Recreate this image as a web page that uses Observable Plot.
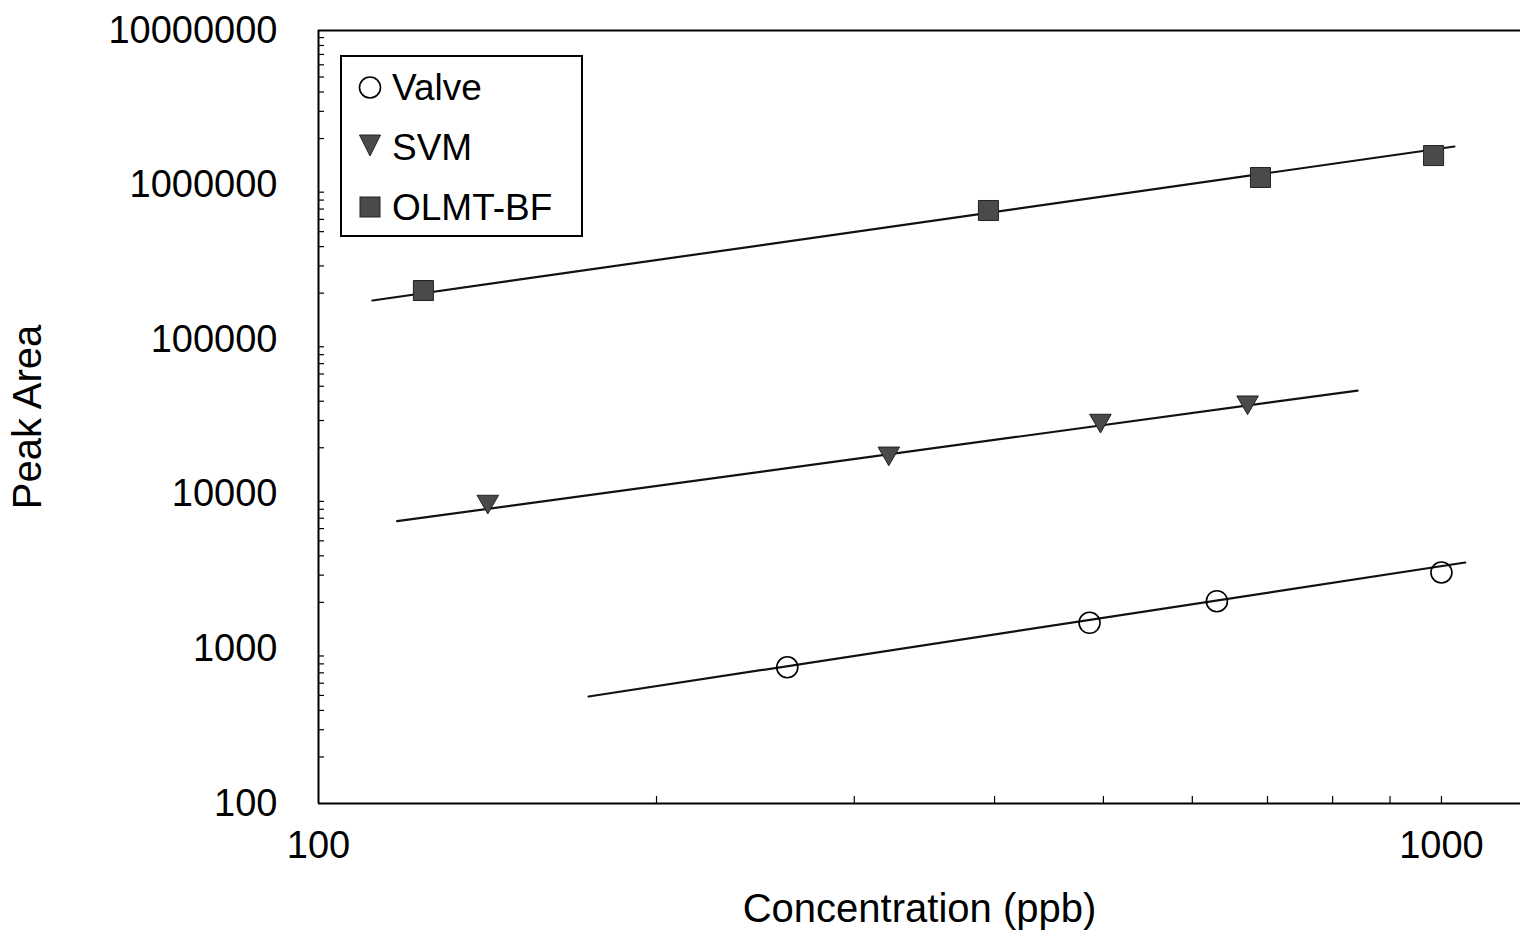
<!DOCTYPE html>
<html>
<head>
<meta charset="utf-8">
<script src="https://cdn.jsdelivr.net/npm/d3@7"></script>
<script src="https://cdn.jsdelivr.net/npm/@observablehq/plot@0.6"></script>
<style>
  body { margin: 0; background: #fff; }
  #wrap { position: relative; width: 1520px; height: 932px; overflow: hidden; }
  #legend { position: absolute; left: 340px; top: 55px; }
</style>
</head>
<body>
<div id="wrap"></div>
<script>
// ---- Data ----
const seriesNames = ["Valve", "SVM", "OLMT-BF"];

// Valve (open circles)
const valveConc = [261.5, 486, 631, 1000];
const valveArea = [761, 1475, 2035, 3120];

// SVM (filled down-triangles)
const svmConc = [141.5, 322, 497, 672];
const svmArea = [8985, 18420, 30020, 39420];

// OLMT-BF (filled squares)
const olmtConc = [124, 395, 690, 984];
const olmtArea = [208000, 685000, 1120000, 1553000];

// Fitted lines: start and end points
const fitValveConc = [174, 1050];
const fitValveArea = [492, 3620];
const fitSvmConc = [117.5, 842];
const fitSvmArea = [6700, 46900];
const fitOlmtConc = [111.7, 1027];
const fitOlmtArea = [179300, 1777000];

// Axis ticks
const xTickLabels = [100, 1000];
const yTickLabels = [100, 1000, 10000, 100000, 1000000, 10000000];
const xDomain = [100, 1176];
const yDomain = [100, 10000000];

// ---- Tables ----
const toRows = (xs, ys, name) => xs.map((x, i) => ({conc: x, area: ys[i], series: name}));
const valveRows = toRows(valveConc, valveArea, seriesNames[0]);
const svmRows = toRows(svmConc, svmArea, seriesNames[1]);
const olmtRows = toRows(olmtConc, olmtArea, seriesNames[2]);
const fitRows = [
  ...toRows(fitValveConc, fitValveArea, seriesNames[0]),
  ...toRows(fitSvmConc, fitSvmArea, seriesNames[1]),
  ...toRows(fitOlmtConc, fitOlmtArea, seriesNames[2])
];

const xMinor = [];
for (let d = 100; d < xDomain[1]; d *= 10)
  for (let m = 1; m <= 9; m++) if (d * m > xDomain[0] && d * m <= xDomain[1]) xMinor.push(d * m);
const yMinor = [];
for (let i = 0; i < yTickLabels.length - 1; i++)
  for (let m = 2; m <= 9; m++) yMinor.push(yTickLabels[i] * m);

const chart = Plot.plot({
  width: 1520,
  height: 932,
  marginLeft: 318,
  marginRight: 0,
  marginTop: 30,
  marginBottom: 129,
  style: {fontSize: "38px", fontFamily: "'Liberation Sans', Arial, sans-serif", color: "#000", background: "#fff"},
  x: {type: "log", domain: xDomain},
  y: {type: "log", domain: yDomain},
  marks: [
    Plot.axisY(yMinor, {tickSize: -6, tickFormat: () => "", label: null, strokeWidth: 1.2}),
    Plot.axisY(yTickLabels, {tickSize: 0, tickPadding: 41, tickFormat: d => String(d), label: null}),
    Plot.axisY([], {label: "Peak Area", labelAnchor: "center", labelArrow: false, labelOffset: 306, fontSize: 40, tickSize: 0}),
    Plot.axisX(xMinor, {tickSize: -7, tickFormat: () => "", label: null, strokeWidth: 1.2}),
    Plot.axisX(xTickLabels, {tickSize: 0, tickPadding: 28, tickFormat: d => String(d), label: null}),
    Plot.axisX([], {label: "Concentration (ppb)", labelAnchor: "center", labelArrow: false, labelOffset: 118, fontSize: 40, tickSize: 0}),
    Plot.ruleX([xDomain[0]], {stroke: "#000", strokeWidth: 2}),
    Plot.ruleY([yDomain[0], yDomain[1]], {stroke: "#000", strokeWidth: 2}),
    Plot.line(fitRows, {x: "conc", y: "area", z: "series", stroke: "#111", strokeWidth: 2.2}),
    Plot.dot(valveRows, {x: "conc", y: "area", r: 10.5, fill: "none", stroke: "#000", strokeWidth: 1.6}),
    Plot.dot(svmRows, {x: "conc", y: "area", symbol: "triangle", rotate: 180, r: 8, fill: "#4a4a4a", stroke: "#222", strokeWidth: 1}),
    Plot.dot(olmtRows, {x: "conc", y: "area", symbol: "square", r: 11.3, fill: "#4a4a4a", stroke: "#222", strokeWidth: 1})
  ]
});

const wrap = document.getElementById("wrap");
wrap.appendChild(chart);

// Legend overlay (inside the plot frame, top-left)
const legendFont = "'Liberation Sans', Arial, sans-serif";
const legend = d3.create("svg")
  .attr("id", "legend")
  .attr("width", 246)
  .attr("height", 186);
legend.append("rect").attr("x", 1).attr("y", 1).attr("width", 241).attr("height", 180)
  .attr("fill", "#fff").attr("stroke", "#000").attr("stroke-width", 2);
legend.append("circle").attr("cx", 30).attr("cy", 32.5).attr("r", 10.5)
  .attr("fill", "none").attr("stroke", "#000").attr("stroke-width", 1.6);
legend.append("path").attr("d", "M19.5,80 L40.5,80 L30,101 Z")
  .attr("fill", "#4a4a4a").attr("stroke", "#222").attr("stroke-width", 1);
legend.append("rect").attr("x", 20).attr("y", 142).attr("width", 20).attr("height", 20)
  .attr("fill", "#4a4a4a").attr("stroke", "#222").attr("stroke-width", 1);
const baselines = [45, 105, 165];
seriesNames.forEach((name, i) => {
  legend.append("text").attr("x", 52).attr("y", baselines[i])
    .attr("font-family", legendFont).attr("font-size", 37).attr("fill", "#000").text(name);
});
wrap.appendChild(legend.node());
</script>
</body>
</html>
